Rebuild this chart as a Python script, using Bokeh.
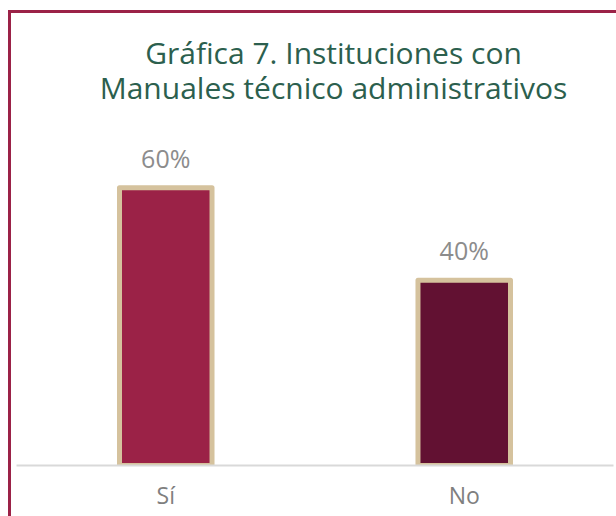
from bokeh.plotting import figure
from bokeh.models import ColumnDataSource, LabelSet, Label, FactorRange, Range1d
from bokeh.embed import file_html
from bokeh.resources import INLINE
from bokeh.core.properties import value

categories = ["Sí", "No"]
values = [60, 40]
labels = ["60%", "40%"]
colors = ["#9B2247", "#621132"]
title_lines = ["Gráfica 7. Instituciones con", "Manuales técnico administrativos"]

source = ColumnDataSource(dict(cat=categories, val=values, lab=labels, color=colors))

W, H = 608, 506
p = figure(width=W, height=H, x_range=FactorRange(*categories, range_padding=0),
           y_range=Range1d(0, 97.6), output_backend="svg", toolbar_location=None,
           min_border_left=5, min_border_right=6, min_border_top=0, min_border_bottom=54)
p.styles = {"border-left": "3px solid #9B2247", "border-top": "3px solid #9B2247",
            "margin-left": "8px", "margin-top": "10px"}
p.outline_line_color = None
p.background_fill_color = "white"
p.border_fill_color = "white"
p.xgrid.grid_line_color = None
p.ygrid.grid_line_color = None
p.yaxis.visible = False

p.vbar(x="cat", top="val", width=0.31, source=source, fill_color="color",
       line_color="#D5C29D", line_width=5, line_join="round")

p.xaxis.axis_line_color = "#D9D9D9"
p.xaxis.axis_line_width = 2
p.xaxis.major_tick_line_color = None
p.xaxis.minor_tick_line_color = None
p.xaxis.major_label_text_font = "Open Sans"
p.xaxis.major_label_text_font_size = "23px"
p.xaxis.major_label_text_color = "#7F7F7F"
p.xaxis.major_label_standoff = 7

p.add_layout(LabelSet(x="cat", y="val", text="lab", source=source, y_offset=13,
                      text_align="center", text_baseline="bottom",
                      text_font=value("Open Sans"), text_font_size="25px",
                      text_color="#8C8C8C"))

for i, t in enumerate(title_lines):
    p.add_layout(Label(x=319, y=36 + 35 * i, x_units="canvas", y_units="canvas", text=t,
                       text_align="center", text_baseline="middle",
                       text_font="Open Sans", text_font_size="30px",
                       text_color="#2C5F4E"))

open("out.html", "w").write(file_html(p, INLINE))
